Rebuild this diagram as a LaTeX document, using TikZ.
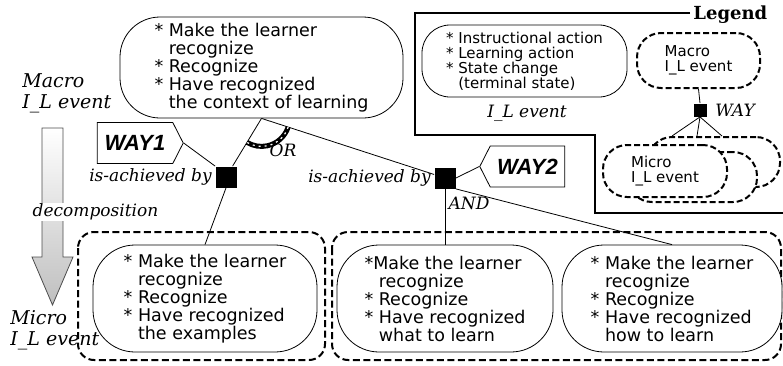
\documentclass[tikz,border=0pt]{standalone}
\usepackage{fontspec}
\usetikzlibrary{shapes.symbols}
\newfontfamily\bubfont{DejaVu Sans}
\newfontfamily\labfont{DejaVu Serif}
\newfontfamily\wayfont{Liberation Sans}
\tikzset{
  ilev/.style={draw, fill=white, rounded corners=42pt, align=left, inner sep=0pt,
    font=\bubfont\fontsize{17.5}{18}\selectfont},
  ilevsmall/.style={ilev, rounded corners=28pt, font=\bubfont\fontsize{15}{15}\selectfont},
  groupbox/.style={line width=2pt, dash pattern=on 7pt off 3.5pt, rounded corners=16pt},
  dashbub/.style={draw, fill=white, line width=2pt, dash pattern=on 6pt off 3pt,
    rounded corners=24pt, inner sep=0pt, align=left, font=\bubfont\fontsize{15}{15}\selectfont},
  waybox/.style={draw, fill=white, signal, signal pointer angle=126, inner sep=0pt,
    minimum height=41pt, font=\wayfont\bfseries\itshape\fontsize{22}{22}\selectfont},
  achieve/.style={fill=black, minimum size=21pt, inner sep=0pt},
  lab/.style={font=\labfont\itshape\fontsize{17}{19}\selectfont, inner sep=0pt, align=left},
  sidelab/.style={lab, font=\labfont\itshape\fontsize{19}{21}\selectfont},
}

\begin{document}
\begin{tikzpicture}[x=1pt,y=-1pt,line width=0.8pt]
\useasboundingbox (0,0) rectangle (783,365);

% legend
\draw[line width=1.2pt] (690,13) -- (415,13) -- (415,135) -- (595,135) -- (595,213) -- (783,213);
\node[anchor=base west, inner sep=0pt, font=\labfont\bfseries\fontsize{18}{18}\selectfont] at (693,19) {Legend};
\node[ilevsmall, minimum width=205pt, minimum height=72pt] (legev) at (524.5,61)
  {* Instructional action\\* Learning action\\* State change\\\phantom{* }(terminal state)};
\node[lab] at (527,113) {I\_L event};
\node[dashbub, minimum width=123pt, minimum height=55pt] (legmacro) at (698.5,60.5) {Macro\\I\_L event};
\node[achieve, minimum size=13pt] (legway) at (700,110) {};
\node[lab, anchor=west] at ([xshift=8pt]legway.east) {WAY};
\node[dashbub, minimum width=132pt, minimum height=50pt] (legback) at (714,162) {};
\node[dashbub, minimum width=129pt, minimum height=50pt] (legmid) at (692.5,177) {};
\node[dashbub, minimum width=124pt, minimum height=52pt] (legmicro) at (665,171) {Micro\\I\_L event};
\draw (legmacro.south) -- (legway.north);
\draw (legway.south) -- ([xshift=-42pt]legback.north);
\draw (legway.south) -- ([xshift=-17pt]legback.north);
\draw (legway.south) -- ([xshift=8pt]legback.north);

% decomposition arrow
\shade[top color=white, bottom color=gray!50, draw=gray!60!black]
  (42,128) -- (63,128) -- (63,257) -- (73,257) -- (52.5,305) -- (32,257) -- (42,257) -- cycle;
\node[lab, fill=white, inner sep=1pt] at (95.5,212) {decomposition};
\node[sidelab, anchor=west] at (22,93) {Macro\\I\_L event};
\node[sidelab, anchor=west] at (10,330) {Micro\\I\_L event};

% groups of micro events
\draw[groupbox] (78,232) rectangle (325,360);
\draw[groupbox] (332,232) rectangle (781,360);

\node[ilev, rounded corners=40pt, minimum width=283pt, minimum height=101pt] (macro) at (261.5,67.5)
  {* Make the learner\\\phantom{* }recognize\\* Recognize\\* Have recognized\\\phantom{* }the context of learning};
\node[ilev, minimum width=224pt, minimum height=107pt] (examples) at (205,298.5)
  {* Make the learner\\\phantom{* }recognize\\* Recognize\\* Have recognized\\\phantom{* }the examples};
\node[ilev, minimum width=216pt, minimum height=107pt] (what) at (445,298.5)
  {*Make the learner\\\phantom{* }recognize\\* Recognize\\* Have recognized\\\phantom{* }what to learn};
\node[ilev, minimum width=220pt, minimum height=107pt] (how) at (672,298.5)
  {* Make the learner\\\phantom{* }recognize\\* Recognize\\* Have recognized\\\phantom{* }how to learn};

% ways
\node[achieve] (way1sq) at (226,177) {};
\node[achieve] (way2sq) at (445,178) {};
\node[waybox, signal to=east, minimum width=86pt] (way1) at (135,143) {WAY1};
\node[waybox, signal to=west, minimum width=85pt] (way2) at (527.5,166.5) {WAY2};
\node[lab, anchor=east] at ([xshift=-3pt]way1sq.west) {is-achieved by};
\node[lab, anchor=east] at ([xshift=-3pt]way2sq.west) {is-achieved by};

\draw (macro.south) -- (way1sq);
\draw (macro.south) -- (way2sq);
\draw (way1.east) -- (way1sq.north west);
\draw (way2sq.east) -- (way2.west);
\draw (way1sq.south) -- (examples.north);
\draw (way2sq.south) -- (what.north);
\draw (way2sq.south east) -- (how.north);

% OR arc
\draw[line width=5pt] (macro.south) ++(18:28) arc[start angle=18, end angle=121, radius=28];
\draw[white, line width=1.2pt, dash pattern=on 2pt off 4pt] (macro.south) ++(18:28) arc[start angle=18, end angle=121, radius=28];
\node[lab] at (283,150) {OR};
\node[lab] at (469,203) {AND};
\end{tikzpicture}
\end{document}
